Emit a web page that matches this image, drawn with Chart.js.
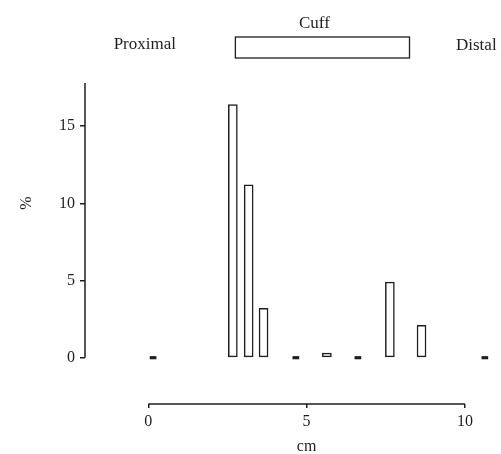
<!DOCTYPE html>
<html>
<head>
<meta charset="utf-8">
<script src="https://cdn.jsdelivr.net/npm/chart.js@4/dist/chart.umd.min.js"></script>
<style>
  body { margin: 0; background: #fff; }
  #wrap { width: 501px; height: 454px; }
</style>
</head>
<body>
<div id="wrap"><canvas id="cuffChart" width="501" height="454"></canvas></div>
<script>
// Distribución a lo largo del brazo (cm) - % por posición
const positions = [0.15, 2.67, 3.17, 3.64, 4.66, 5.64, 6.62, 7.63, 8.63, 10.63];
const percents  = [0, 16.4, 11.2, 3.2, 0, 0.3, 0, 4.9, 2.1, 0];
const xTicks = [0, 5, 10];
const yTicks = [0, 5, 10, 15];
const cuffRange = [2.75, 8.25];

const ink = '#1e1e1e';
const serif = '"Liberation Serif", "DejaVu Serif", serif';

// los valores cero se dibujan como guiones cortos
const barPoints = [];
const zeroPoints = [];
positions.forEach((p, i) => {
  (percents[i] > 0 ? barPoints : zeroPoints).push({ x: p, y: percents[i] });
});

// ejes recortados + rótulos (Cuff, Proximal, Distal, %, cm)
const extras = {
  id: 'extras',
  afterDraw(chart) {
    const { ctx, chartArea, scales: { x, y } } = chart;
    ctx.save();
    ctx.strokeStyle = ink;
    ctx.fillStyle = ink;
    ctx.lineWidth = 1.5;

    // eje y: de 0 hasta arriba
    ctx.beginPath();
    ctx.moveTo(chartArea.left, y.getPixelForValue(0));
    ctx.lineTo(chartArea.left, chartArea.top);
    ctx.stroke();

    // eje x: solo de 0 a 10
    ctx.beginPath();
    ctx.moveTo(x.getPixelForValue(xTicks[0]), chartArea.bottom);
    ctx.lineTo(x.getPixelForValue(xTicks[xTicks.length - 1]), chartArea.bottom);
    ctx.stroke();

    // manguito
    const c0 = x.getPixelForValue(cuffRange[0]);
    const c1 = x.getPixelForValue(cuffRange[1]);
    ctx.lineWidth = 1.3;
    ctx.strokeRect(c0, 37, c1 - c0, 21);

    ctx.font = '17px ' + serif;
    ctx.textBaseline = 'alphabetic';
    ctx.textAlign = 'center';
    ctx.fillText('Cuff', (c0 + c1) / 2 - 8, 28);
    ctx.textAlign = 'right';
    ctx.fillText('Proximal', 176, 49);
    ctx.textAlign = 'left';
    ctx.fillText('Distal', 456, 50);

    ctx.font = '16px ' + serif;
    ctx.textAlign = 'center';
    ctx.fillText('cm', x.getPixelForValue(5), 451);

    ctx.translate(27, 203);
    ctx.rotate(-Math.PI / 2);
    ctx.textBaseline = 'middle';
    ctx.fillText('%', 0, 0);
    ctx.restore();
  }
};

new Chart(document.getElementById('cuffChart'), {
  type: 'bar',
  data: {
    datasets: [{
      data: barPoints,
      barThickness: 9,
      backgroundColor: '#fff',
      borderColor: ink,
      borderWidth: 1.5,
      borderSkipped: false,
      grouped: false
    }, {
      data: zeroPoints,
      barThickness: 6,
      minBarLength: 2.5,
      backgroundColor: ink,
      borderWidth: 0,
      grouped: false
    }]
  },
  options: {
    responsive: false,
    animation: false,
    layout: { padding: { top: 83, left: 0, right: 0, bottom: 0 } },
    plugins: { legend: { display: false }, tooltip: { enabled: false } },
    scales: {
      x: {
        type: 'linear',
        offset: false,
        min: -2.0,
        max: 11.14,
        afterBuildTicks: s => { s.ticks = xTicks.map(v => ({ value: v })); },
        afterFit: s => { s.height = 50; },
        border: { display: false },
        grid: { offset: false, drawOnChartArea: false, color: ink, lineWidth: 1.5, tickLength: 4 },
        ticks: { color: ink, font: { family: serif, size: 16 }, padding: 4, maxRotation: 0 }
      },
      y: {
        min: -3.0,
        max: 17.8,
        afterBuildTicks: s => { s.ticks = yTicks.map(v => ({ value: v })); },
        afterFit: s => { s.width = 85; },
        border: { display: false },
        grid: { drawOnChartArea: false, color: ink, lineWidth: 1.5, tickLength: 5 },
        ticks: { color: ink, font: { family: serif, size: 16 }, padding: 5 }
      }
    }
  },
  plugins: [extras]
});
</script>
</body>
</html>
